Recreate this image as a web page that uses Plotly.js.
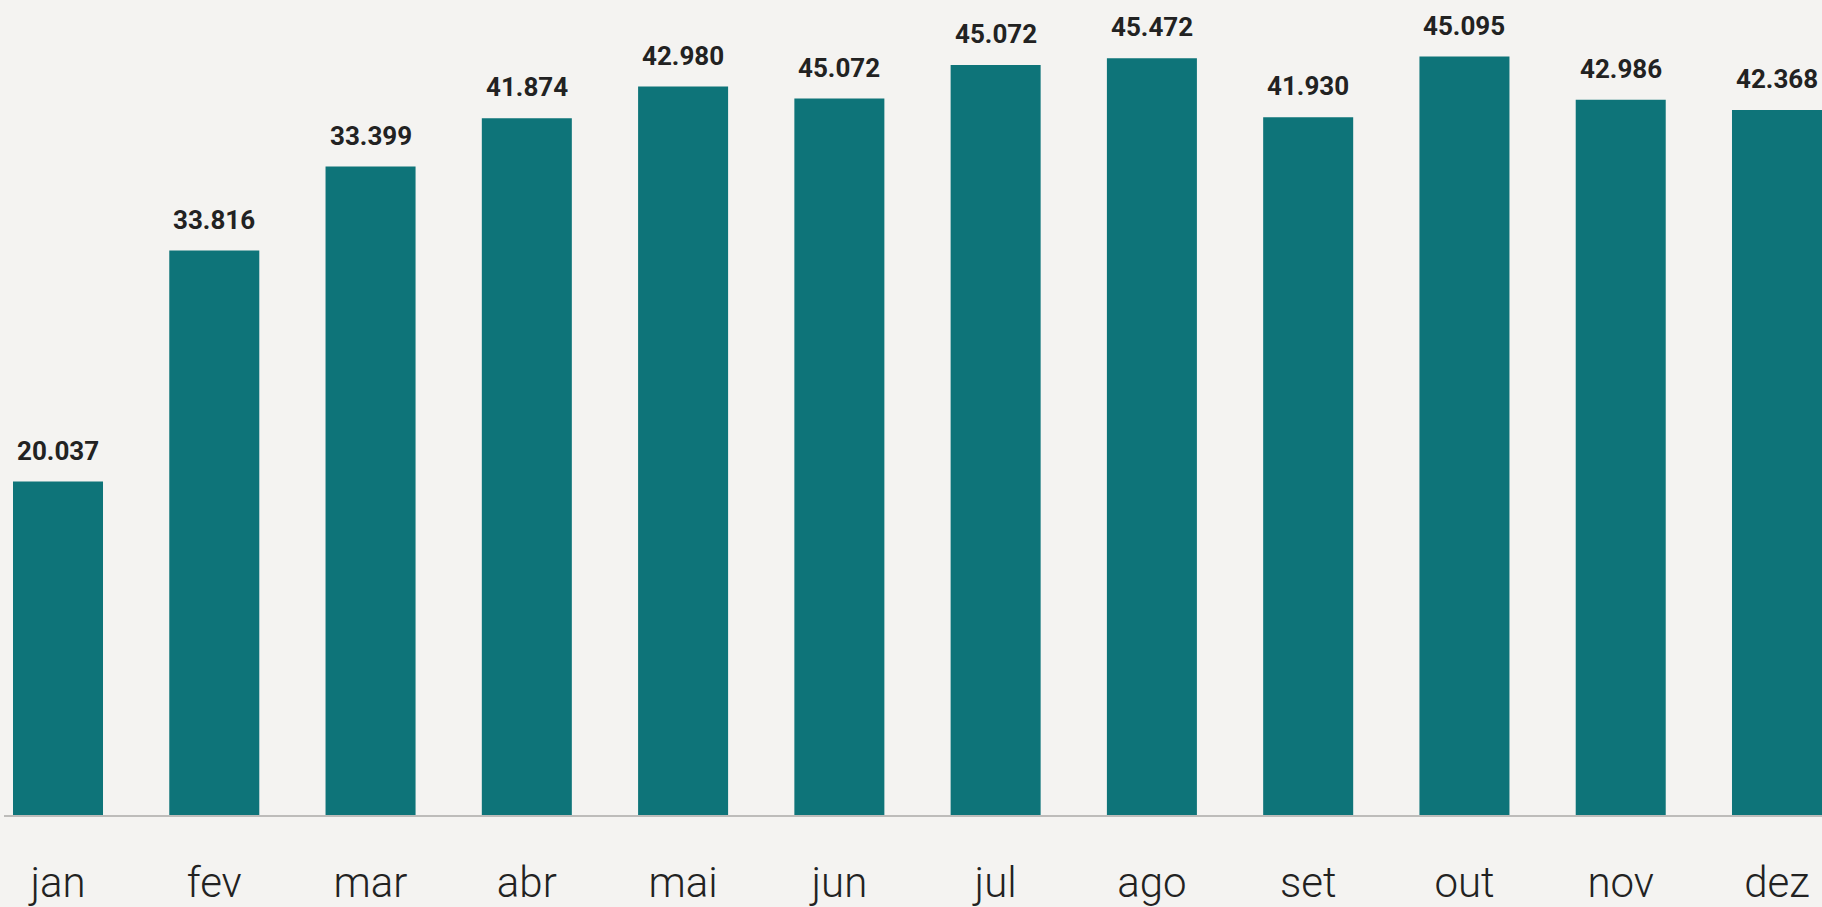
<!DOCTYPE html>
<html>
<head>
<meta charset="utf-8">
<script src="https://cdn.plot.ly/plotly-3.0.1.min.js"></script>
<style>
  html, body { margin: 0; padding: 0; background: #f4f3f1; }
  #chart { width: 1822px; height: 907px; }
</style>
</head>
<body>
<div id="chart"></div>
<script>
const months = ['jan', 'fev', 'mar', 'abr', 'mai', 'jun', 'jul', 'ago', 'set', 'out', 'nov', 'dez'];
// bar heights as drawn in the reference
const barValues = [20.037, 33.92, 38.97, 41.874, 43.78, 43.06, 45.072, 45.472, 41.930, 45.58, 42.986, 42.368];
// data labels as printed in the reference
const labelTexts = ['20.037', '33.816', '33.399', '41.874', '42.980', '45.072', '45.072', '45.472', '41.930', '45.095', '42.986', '42.368'];

const barColor = '#0e7479';
const bg = '#f4f3f1';

const trace = {
  type: 'bar',
  x: months.map((m, i) => i),
  y: barValues,
  marker: { color: barColor, line: { width: 0 } },
  hoverinfo: 'skip'
};

const annotations = months.map((m, i) => ({
  x: i,
  y: barValues[i],
  xref: 'x',
  yref: 'y',
  text: labelTexts[i],
  showarrow: false,
  xanchor: 'center',
  yanchor: 'bottom',
  yshift: 14,
  font: { family: 'Roboto, Arial, sans-serif', size: 26, color: '#222222', weight: 700 }
}));

const layout = {
  width: 1822,
  height: 907,
  paper_bgcolor: bg,
  plot_bgcolor: bg,
  margin: { l: 4, r: 0, t: 0, b: 92 },
  bargap: 0.424,
  showlegend: false,
  xaxis: {
    range: [-0.3456, 11.288],
    tickmode: 'array',
    tickvals: months.map((m, i) => i),
    ticktext: months,
    showgrid: false,
    zeroline: false,
    showline: true,
    linecolor: '#bdbcba',
    linewidth: 1.5,
    ticks: '',
    ticklabelstandoff: 30,
    tickfont: { family: 'Roboto, Arial, sans-serif', size: 42, color: '#222222', weight: 300 },
    fixedrange: true
  },
  yaxis: {
    range: [0, 48.98],
    showgrid: false,
    zeroline: false,
    showline: false,
    showticklabels: false,
    ticks: '',
    fixedrange: true
  },
  annotations: annotations
};

Plotly.newPlot('chart', [trace], layout, { displayModeBar: false, staticPlot: true });
</script>
</body>
</html>
